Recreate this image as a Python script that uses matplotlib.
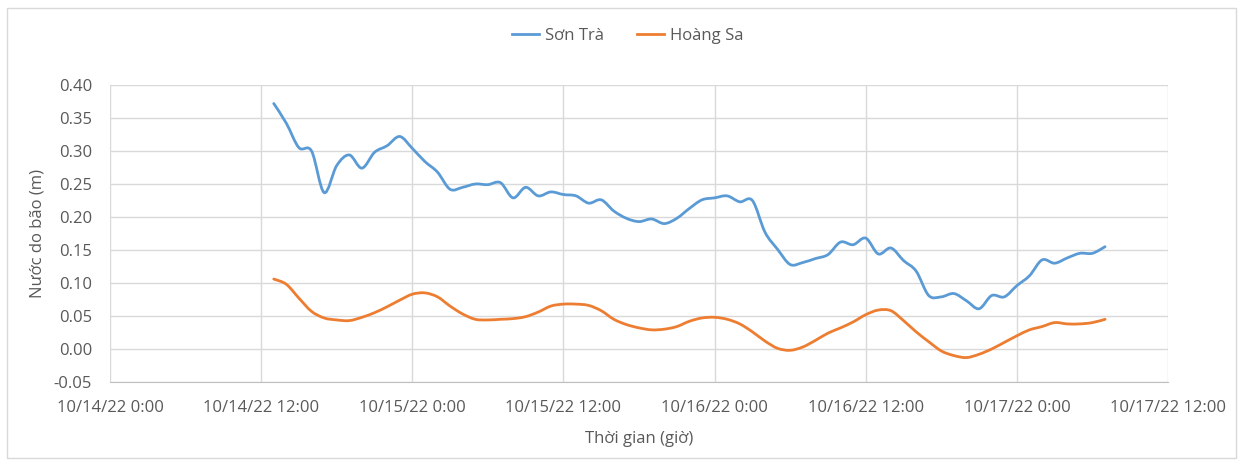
import numpy as np
import pandas as pd
import matplotlib
matplotlib.use('Agg')
import matplotlib.pyplot as plt
import matplotlib.dates as mdates
from matplotlib.path import Path
from matplotlib.patches import PathPatch, Rectangle
from matplotlib.lines import Line2D

# hourly values, 10/14/22 13:00 -> 10/17/22 07:00
times = pd.date_range('2022-10-14 13:00', '2022-10-17 07:00', freq='h')

son_tra = [0.372, 0.342, 0.305, 0.300, 0.237, 0.278, 0.294, 0.274, 0.298, 0.308,
           0.322, 0.304, 0.284, 0.268, 0.242, 0.245, 0.250, 0.249, 0.252, 0.229,
           0.245, 0.232, 0.238, 0.234, 0.232, 0.221, 0.226, 0.209, 0.198, 0.193,
           0.197, 0.190, 0.198, 0.213, 0.226, 0.229, 0.232, 0.223, 0.225, 0.177,
           0.151, 0.128, 0.131, 0.137, 0.143, 0.162, 0.158, 0.168, 0.144, 0.153,
           0.134, 0.118, 0.081, 0.079, 0.084, 0.073, 0.061, 0.081, 0.079, 0.096,
           0.111, 0.135, 0.130, 0.138, 0.145, 0.145, 0.155]

hoang_sa = [0.106, 0.098, 0.077, 0.057, 0.047, 0.044, 0.043, 0.048, 0.055, 0.064,
            0.074, 0.083, 0.085, 0.079, 0.065, 0.053, 0.045, 0.044, 0.045, 0.046,
            0.049, 0.056, 0.065, 0.068, 0.068, 0.066, 0.058, 0.045, 0.037, 0.032,
            0.029, 0.030, 0.034, 0.042, 0.047, 0.048, 0.045, 0.038, 0.026, 0.012,
            0.001, -0.002, 0.003, 0.013, 0.024, 0.032, 0.041, 0.052, 0.059, 0.058,
            0.043, 0.026, 0.011, -0.003, -0.010, -0.013, -0.008, 0.000, 0.010, 0.020,
            0.029, 0.034, 0.040, 0.038, 0.038, 0.040, 0.045]

series_names = ['Sơn Trà', 'Hoàng Sa']
series_colors = ['#5B9BD5', '#ED7D31']

tick_times = pd.date_range('2022-10-14 00:00', '2022-10-17 12:00', freq='12h')
tick_labels = ['10/14/22 0:00', '10/14/22 12:00', '10/15/22 0:00', '10/15/22 12:00',
               '10/16/22 0:00', '10/16/22 12:00', '10/17/22 0:00', '10/17/22 12:00']
y_ticks = [-0.05, 0.0, 0.05, 0.10, 0.15, 0.20, 0.25, 0.30, 0.35, 0.40]


def smooth_path(x, y):
    """Excel-like smoothed line: cubic Bezier segments through every point."""
    x = np.asarray(x, dtype=float)
    y = np.asarray(y, dtype=float)
    n = len(x)
    verts = [(x[0], y[0])]
    codes = [Path.MOVETO]
    for i in range(n - 1):
        i0 = max(i - 1, 0)
        i3 = min(i + 2, n - 1)
        c1 = (x[i] + (x[i + 1] - x[i0]) / 6, y[i] + (y[i + 1] - y[i0]) / 6)
        c2 = (x[i + 1] - (x[i3] - x[i]) / 6, y[i + 1] - (y[i3] - y[i]) / 6)
        verts += [c1, c2, (x[i + 1], y[i + 1])]
        codes += [Path.CURVE4] * 3
    return Path(verts, codes)


plt.rcParams['font.family'] = ['Open Sans', 'DejaVu Sans']
text_color = '#595959'

fig = plt.figure(figsize=(12.43, 4.61), dpi=100)
ax = fig.add_axes([0.0885, 0.1714, 0.8512, 0.6442])

# outer chart border
fig.patches.append(Rectangle((0.006, 0.006), 0.988, 0.977, transform=fig.transFigure,
                             fill=False, edgecolor='#d9d9d9', linewidth=1))

xnum = mdates.date2num(times)
handles = []
for vals, name, color in zip([son_tra, hoang_sa], series_names, series_colors):
    ax.add_patch(PathPatch(smooth_path(xnum, vals), fill=False, edgecolor=color,
                           linewidth=2, capstyle='round', joinstyle='round', zorder=3))
    handles.append(Line2D([], [], color=color, linewidth=2, label=name))

ax.set_xlim(mdates.date2num(tick_times[0]), mdates.date2num(tick_times[-1]))
ax.set_ylim(-0.05, 0.40)
ax.set_xticks(mdates.date2num(tick_times))
ax.set_xticklabels(tick_labels)
ax.set_yticks(y_ticks)
ax.set_yticklabels([f'{v:.2f}' for v in y_ticks])

ax.grid(True, color='#d9d9d9', linewidth=1)
ax.set_axisbelow(True)
for side in ['top', 'right', 'left']:
    ax.spines[side].set_visible(False)
ax.spines['bottom'].set_color('#bfbfbf')
ax.tick_params(length=0, labelsize=12, colors=text_color)
ax.tick_params(axis='x', pad=13)
ax.tick_params(axis='y', pad=13)

ax.set_xlabel('Thời gian (giờ)', fontsize=12, color=text_color, labelpad=11)
ax.set_ylabel('Nước do bão (m)', fontsize=12, color=text_color, labelpad=6)

fig.legend(handles=handles, loc='center', bbox_to_anchor=(0.505, 0.922), ncol=2,
           frameon=False, fontsize=12, handlelength=1.6, handletextpad=0.35,
           columnspacing=2.0, labelcolor=text_color)

fig.savefig('out.png', dpi=100)
